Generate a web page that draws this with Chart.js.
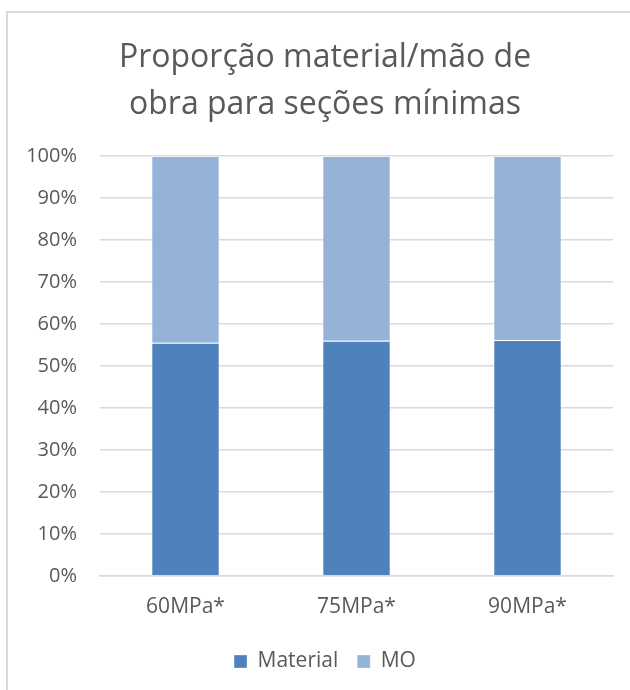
<!DOCTYPE html>
<html>
<head>
<meta charset="utf-8">
<script src="https://cdn.jsdelivr.net/npm/chart.js@4/dist/chart.umd.min.js"></script>
<style>
html,body{margin:0;padding:0;background:#fff;overflow:hidden;}
#wrap{position:relative;width:630px;height:690px;}
canvas{position:absolute;left:0;top:0;}
</style>
</head>
<body>
<div id="wrap"><canvas id="c" width="630" height="690"></canvas></div>
<script>
const categories = ["60MPa*", "75MPa*", "90MPa*"];
const materialValues = [55.5, 56.0, 56.2];
const moValues = [44.5, 44.0, 43.8];
const seriesNames = ["Material", "MO"];
const titleLines = ["Proporção material/mão de", "obra para seções mínimas"];

const FONT = "'Open Sans', 'Noto Sans', sans-serif";
const TXT = "#595959";

const frame = {
  id: 'frame',
  beforeDraw(chart) {
    const ctx = chart.ctx;
    ctx.save();
    ctx.fillStyle = '#fff';
    ctx.fillRect(0, 0, chart.width, chart.height);
    ctx.strokeStyle = '#d9d9d9';
    ctx.lineWidth = 2;
    ctx.strokeRect(7, 12, 700, 800);
    ctx.restore();
  },
  afterLayout(chart) {
    // widen the y-axis label clip area so long labels are not cut
    const y = chart.scales.y;
    y.left = 0;
    y.width = y.right;
  }
};

new Chart(document.getElementById('c'), {
  type: 'bar',
  data: {
    labels: categories,
    datasets: [
      { label: seriesNames[0], data: materialValues, backgroundColor: '#4F81BD', borderColor: 'rgba(255,255,255,0.35)', borderWidth: 1, categoryPercentage: 1, barPercentage: 0.4 },
      { label: seriesNames[1], data: moValues, backgroundColor: '#95B3D7', borderColor: 'rgba(255,255,255,0.35)', borderWidth: 1, categoryPercentage: 1, barPercentage: 0.4 }
    ]
  },
  options: {
    responsive: false,
    animation: false,
    devicePixelRatio: 1,
    layout: { padding: { left: 37, right: 17, top: 0, bottom: 8 } },
    plugins: {
      tooltip: { enabled: false },
      title: {
        display: true,
        text: titleLines,
        color: TXT,
        font: { family: FONT, size: 32, weight: 'normal', lineHeight: 1.47 },
        padding: { top: 34, bottom: 28 }
      },
      legend: {
        position: 'bottom',
        labels: {
          color: TXT,
          font: { family: FONT, size: 21 },
          boxWidth: 13, boxHeight: 13,
          padding: 19
        }
      }
    },
    scales: {
      x: {
        stacked: true,
        afterFit(scale) { scale.height = scale.height - 7; },
        grid: { display: false, drawTicks: false },
        border: { display: true, color: '#d9d9d9', width: 1.5 },
        ticks: { color: TXT, font: { family: FONT, size: 21 }, padding: 19 }
      },
      y: {
        stacked: true,
        min: 0, max: 100,
        afterFit(scale) { scale.width = 63; },
        grid: { color: '#d9d9d9', lineWidth: 1.5, drawTicks: false },
        border: { display: false },
        ticks: {
          stepSize: 10,
          color: TXT,
          font: { family: FONT, size: 20 },
          padding: 23,
          callback: v => v + '%'
        }
      }
    }
  },
  plugins: [frame]
});
</script>
</body>
</html>
